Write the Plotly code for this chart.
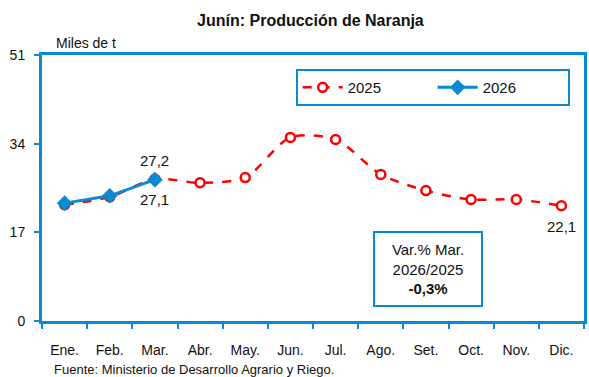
import plotly.graph_objects as go

# Monthly orange production in Junín (thousand tonnes)
months = ["Ene.", "Feb.", "Mar.", "Abr.", "May.", "Jun.", "Jul.", "Ago.", "Set.", "Oct.", "Nov.", "Dic."]
prod_2025 = [22.3, 23.8, 27.2, 26.5, 27.5, 35.2, 34.8, 28.1, 25.0, 23.3, 23.3, 22.1]
prod_2026 = [22.6, 24.0, 27.1]
y_ticks = [0, 17, 34, 51]

BLUE = "#0a8ad4"
RED = "#ff0000"
FONT = "Liberation Sans, Arial"


def fmt(v):
    return f"{v:.1f}".replace(".", ",")


fig = go.Figure()
fig.add_trace(go.Scatter(
    x=months, y=prod_2025, name="2025", mode="lines+markers",
    line=dict(color=RED, width=2.5, dash="dash", shape="spline", smoothing=0.8),
    marker=dict(symbol="circle", size=9, color="white", line=dict(color=RED, width=2.5)),
))
fig.add_trace(go.Scatter(
    x=months[:len(prod_2026)], y=prod_2026, name="2026", mode="lines+markers",
    line=dict(color=BLUE, width=3),
    marker=dict(symbol="diamond", size=12, color=BLUE),
))

# value labels
fig.add_annotation(x=months[2], y=prod_2025[2], text=fmt(prod_2025[2]),
                   showarrow=False, yshift=19, font=dict(size=15))
fig.add_annotation(x=months[2], y=prod_2026[2], text=fmt(prod_2026[2]),
                   showarrow=False, yshift=-20, font=dict(size=15))
fig.add_annotation(x=months[11], y=prod_2025[11], text=fmt(prod_2025[11]),
                   showarrow=False, yshift=-21, font=dict(size=15))

# variation box
fig.add_annotation(x=0.713, y=0.195, xref="paper", yref="paper", xanchor="center", yanchor="middle",
                   text="Var.% Mar.<br>2026/2025<br><b>-0,3%</b>", showarrow=False,
                   font=dict(size=15), align="center",
                   bordercolor=BLUE, borderwidth=2, borderpad=8, bgcolor="white",
                   width=90)

fig.add_annotation(x=0.0, y=1.0, xref="paper", yref="paper", xanchor="left", yanchor="bottom",
                   text="Miles de t", showarrow=False, xshift=12, yshift=2, font=dict(size=14))

fig.add_annotation(x=0.018, y=0.0, xref="paper", yref="paper", xanchor="left", yanchor="bottom",
                   text="Fuente: Ministerio de Desarrollo Agrario y Riego.", showarrow=False,
                   yshift=-58, font=dict(size=13))

fig.update_layout(
    width=589, height=377,
    margin=dict(l=42, r=2, t=55, b=56),
    paper_bgcolor="white", plot_bgcolor="white",
    font=dict(family=FONT, size=14, color="#111111"),
    title=dict(text="<b>Junín: Producción de Naranja</b>", x=0.527, xanchor="center",
               y=0.945, yanchor="middle", font=dict(size=16)),
    showlegend=True,
    legend=dict(orientation="h", x=0.468, y=0.947, xanchor="left", yanchor="top",
                bordercolor=BLUE, borderwidth=2, bgcolor="white",
                font=dict(size=15), itemwidth=40, entrywidth=80),
    xaxis=dict(type="category", range=[-0.5, 11.5], showline=True, linecolor=BLUE, linewidth=3,
               mirror=True, ticks="outside", tickson="boundaries", ticklen=5, tickcolor=BLUE,
               tickwidth=2, showgrid=False, zeroline=False, ticklabelstandoff=14),
    yaxis=dict(range=[0, 51], tickvals=y_ticks, showline=True, linecolor=BLUE, linewidth=3,
               mirror=True, ticks="outside", ticklen=5, tickcolor=BLUE, tickwidth=2,
               showgrid=False, zeroline=False, ticklabelstandoff=6),
)

fig.write_html("out.html")
